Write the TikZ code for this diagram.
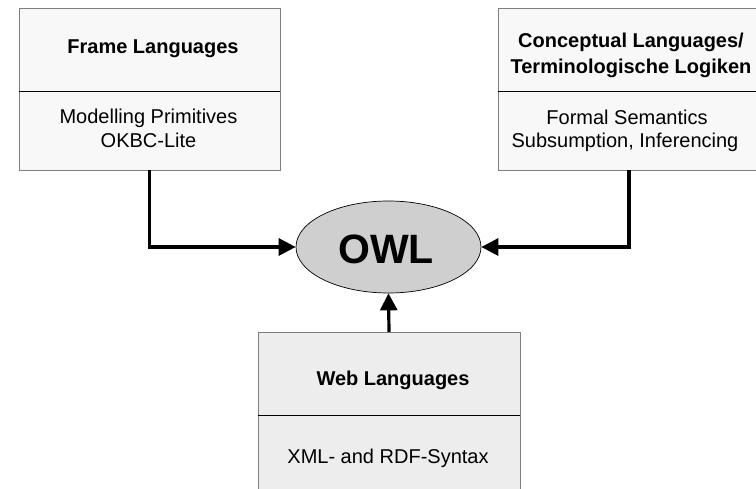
\documentclass[tikz,border=0pt]{standalone}
\usepackage{fontspec}
\setmainfont{Liberation Sans}
\usetikzlibrary{arrows.meta,shapes.geometric}
\definecolor{boxfill}{HTML}{F8F8F8}
\definecolor{webfill}{HTML}{EDEDED}
\definecolor{owlfill}{HTML}{CFCFCF}
\definecolor{boxline}{HTML}{7F7F7F}
\tikzset{
   langbox/.style={draw=boxline, line width=0.9pt, inner sep=0pt, outer sep=0pt},
   headtext/.style={anchor=base, inner sep=0pt, font=\fontsize{20}{24}\selectfont\bfseries},
   bodytext/.style={anchor=base, inner sep=0pt, font=\fontsize{20}{24}\selectfont},
   link/.style={line width=3.2pt, -{Triangle[length=17pt, width=17pt]}}
}
\begin{document}
\begin{tikzpicture}[x=1pt, y=-1pt]
   \useasboundingbox (0, 0) rectangle (756, 489);
   \clip (0, 0) rectangle (756, 489);
   % boxes
   \node[langbox, fill=boxfill, minimum width=261pt, minimum height=162pt] (frame) at (149.5, 89) {};
   \node[langbox, fill=boxfill, minimum width=264pt, minimum height=162pt] (concept) at (630, 89) {};
   \node[langbox, fill=webfill, minimum width=262pt, minimum height=163pt] (web) at (389, 413.5) {};
   \draw (frame.west |- 0, 91) -- (frame.east |- 0, 91);
   \draw (concept.west |- 0, 91) -- (concept.east |- 0, 91);
   \draw (web.west |- 0, 415) -- (web.east |- 0, 415);
   % texts
   \node[headtext] (frametitle) at (153, 54) {Frame Languages};
   \node[bodytext] (framebody1) at (148.5, 124) {Modelling Primitives};
   \node[bodytext] (framebody2) at (148.5, 148) {OKBC-Lite};
   \node[headtext] (concepttitle1) at (631, 48) {Conceptual Languages/};
   \node[headtext] (concepttitle2) at (631, 74) {Terminologische Logiken};
   \node[bodytext] (conceptbody1) at (627, 125) {Formal Semantics};
   \node[bodytext] (conceptbody2) at (625, 148) {Subsumption, Inferencing};
   \node[headtext] (webtitle) at (393, 386) {Web Languages};
   \node[bodytext] (webbody) at (388, 463) {XML- and RDF-Syntax};
   % owl
   \node[ellipse, draw, fill=owlfill, line width=0.7pt, inner sep=0pt,
         minimum width=185pt, minimum height=92pt] (owl) at (388.5, 247) {};
   \node[anchor=base, inner sep=0pt, font=\fontsize{41}{41}\selectfont\bfseries] (owltext) at (386, 264) {OWL};
   % arrows
   \draw[link] (frame.south) |- (owl.west);
   \draw[link] (concept.south -| 629, 0) |- (owl.east);
   \draw[link] (web.north) -- (owl.south);
\end{tikzpicture}
\end{document}
